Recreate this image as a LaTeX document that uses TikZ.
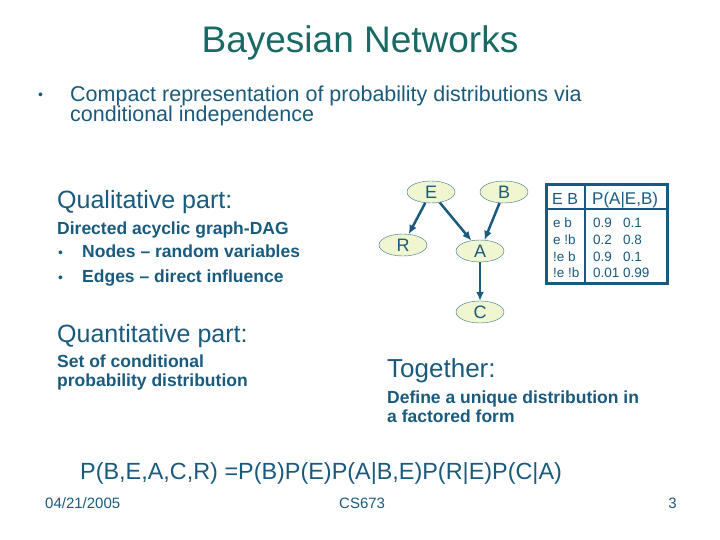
\documentclass[tikz,border=0pt]{standalone}
\usepackage{fontspec}
\setmainfont{Liberation Sans}
\usetikzlibrary{shapes.geometric,arrows.meta,positioning}
\definecolor{titleteal}{RGB}{25,105,100}
\definecolor{inkblue}{RGB}{25,90,125}
\definecolor{nodefill}{RGB}{240,246,208}
\definecolor{nodeline}{RGB}{45,115,135}
\newcommand{\fsz}[1]{\fontsize{#1}{#1}\selectfont}

\begin{document}
\begin{tikzpicture}[x=1pt,y=-1pt,
  txt/.style={anchor=base west,inner sep=0pt,text=inkblue},
  rv/.style={ellipse,draw=nodeline,fill=nodefill,minimum width=48pt,minimum height=22pt,inner sep=0pt,font=\fsz{18},text=inkblue},
  infl/.style={-{Latex[length=9pt,width=8pt]},line width=2.5pt,draw=inkblue}]
\useasboundingbox (0,0) rectangle (720,540);

\node[anchor=base,inner sep=0pt,text=titleteal,font=\fsz{37}] (title) at (360,53) {Bayesian Networks};

\node[txt,font=\fsz{14}] (introdot) at (38,100) {\textbullet};
\node[txt,font=\fsz{21.5}] (intro1) at (70,102) {Compact representation of probability distributions via};
\node[txt,font=\fsz{21.5}] (intro2) at (70,122) {conditional independence};

% left column
\node[txt,font=\fsz{25}] (qual) at (57,209) {Qualitative part:};
\node[txt,font=\fsz{17.5}\bfseries] (dag) at (57,235) {Directed acyclic graph-DAG};
\foreach \y/\item in {258/Nodes -- random variables, 282/Edges -- direct influence} {
    \node[txt,font=\fsz{14}] at (58,\y) {\textbullet};
    \node[txt,font=\fsz{17.5}\bfseries] at (82,\y) {\item};
}
\node[txt,font=\fsz{25}] (quant) at (57,342) {Quantitative part:};
\node[txt,font=\fsz{17.5}\bfseries] (cpd1) at (57,367) {Set of conditional};
\node[txt,font=\fsz{17.5}\bfseries] (cpd2) at (57,386) {probability distribution};

% network
\node[rv] (E) at (431,192) {E};
\node[rv] (B) at (504,192) {B};
\node[rv] (R) at (403,245) {R};
\node[rv] (A) at (480,251) {A};
\node[rv] (C) at (480,312) {C};
\draw[infl] (E) -- (R);
\draw[infl] (E) -- (A);
\draw[infl] (B) -- (A);
\draw[infl] (A) -- (C);

% CPT of A
\draw[inkblue,line width=3pt] (546,185) rectangle (667,283);
\draw[inkblue,line width=2.5pt] (585,185) -- (585,283);
\draw[inkblue,line width=2.5pt] (546,209) -- (667,209);
\node[txt,font=\fsz{16}] (cpthead) at (552,205) {E B};
\node[txt,font=\fsz{17}] (cptcol) at (592,205) {P(A|E,B)};
\foreach \y/\ev/\pa/\pb in {228/e b/0.9/0.1, 244/e !b/0.2/0.8, 261/!e b/0.9/0.1, 277/!e !b/0.01/0.99} {
    \node[txt,font=\fsz{13.5}] at (553,\y) {\ev};
    \node[txt,font=\fsz{13.5}] at (593,\y) {\pa};
    \node[txt,font=\fsz{13.5}] at (623,\y) {\pb};
}

\node[txt,font=\fsz{26}] (together) at (387,377) {Together:};
\node[txt,font=\fsz{17.5}\bfseries] (def1) at (387,403) {Define a unique distribution in};
\node[txt,font=\fsz{17.5}\bfseries] (def2) at (387,422) {a factored form};

\node[txt,font=\fsz{23.4}] (joint) at (80,479) {P(B,E,A,C,R) =P(B)P(E)P(A|B,E)P(R|E)P(C|A)};

% footer
\node[txt,font=\fsz{15}] (date) at (45,508) {04/21/2005};
\node[txt,font=\fsz{15}] (course) at (339,508) {CS673};
\node[txt,anchor=base east,font=\fsz{15}] (page) at (677,508) {3};
\end{tikzpicture}
\end{document}
